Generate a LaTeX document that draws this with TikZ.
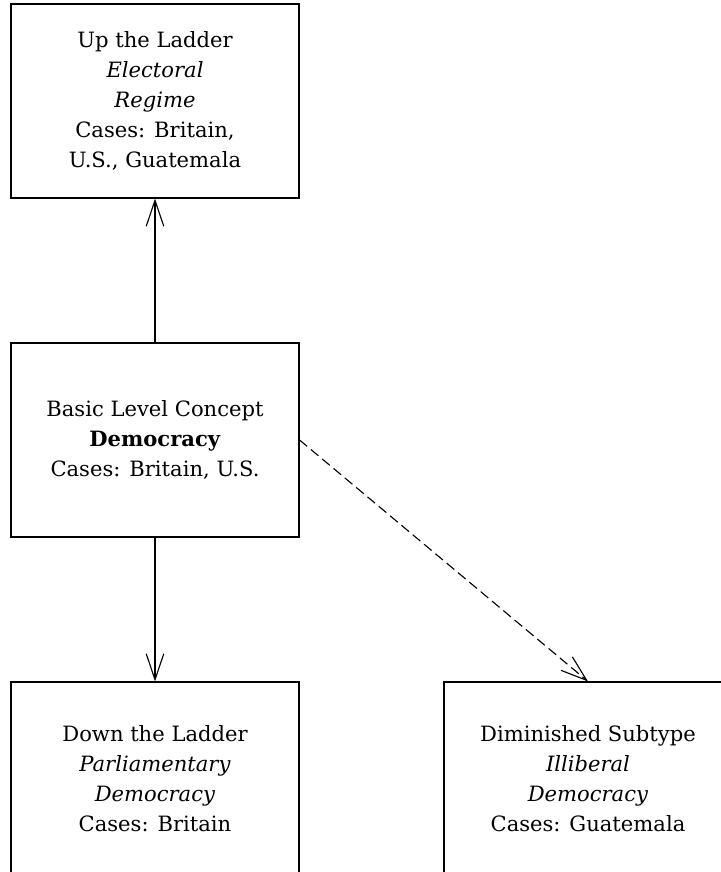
\documentclass[tikz,border=0pt]{standalone}
\usepackage{fontspec}
\setmainfont{DejaVu Serif}
\usetikzlibrary{shapes,arrows.meta}
\tikzstyle{block} = [rectangle, draw, line width=0.8pt, align=center,
    minimum width=7.2cm, minimum height=4.85cm, font=\fontsize{15}{21.3}\selectfont]
\tikzstyle{line} = [draw, line width=0.8pt, -{Straight Barb[length=0.65cm, width=0.44cm, line width=0.8pt]}]
\tikzstyle{dashline} = [line, dash pattern=on 7pt off 3.5pt]

\begin{document}
\begin{tikzpicture}[node distance=8.475cm]

	\useasboundingbox (0,0) rectangle (18,-21.8);

	\node [block] (core) at (3.875,-11) {Basic Level Concept\\ \textbf{Democracy}\\ Cases: Britain, U.S.};

	\node [block, above of=core] (up) {Up the Ladder\\ \textit{Electoral}\\ \textit{Regime}\\ Cases: Britain,\\ U.S., Guatemala};
	\node [block, below of=core] (down) {Down the Ladder\\ \textit{Parliamentary}\\ \textit{Democracy}\\ Cases: Britain};
	\node [block, right of=down, node distance=10.825cm] (subtype) {Diminished Subtype\\ \textit{Illiberal}\\ \textit{Democracy}\\ Cases: Guatemala};

	\path [line] (core) -- (up);
	\path [line] (core) -- (down);
	\path [dashline] (core.east) -- (subtype.north);

\end{tikzpicture}
\end{document}
